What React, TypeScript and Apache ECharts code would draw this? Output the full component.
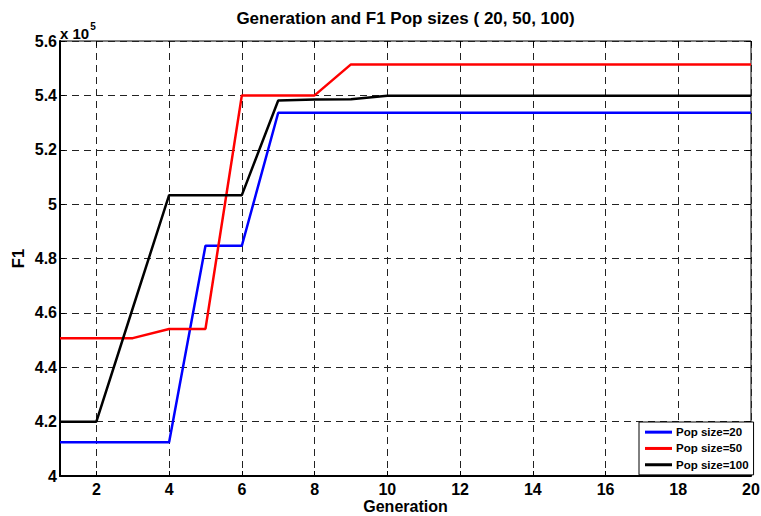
import React, { useEffect, useRef } from "react";
import * as echarts from "echarts";

const generations = [1, 2, 3, 4, 5, 6, 7, 8, 9, 10, 11, 12, 13, 14, 15, 16, 17, 18, 19, 20];
const pop20 = [412400, 412400, 412400, 412400, 484700, 484700, 533600, 533600, 533600, 533600, 533600, 533600, 533600, 533600, 533600, 533600, 533600, 533600, 533600, 533600];
const pop50 = [450700, 450700, 450700, 454100, 454100, 540000, 540000, 540000, 551400, 551400, 551400, 551400, 551400, 551400, 551400, 551400, 551400, 551400, 551400, 551400];
const pop100 = [420000, 420000, 461700, 503300, 503300, 503300, 538100, 538500, 538600, 539900, 539900, 539900, 539900, 539900, 539900, 539900, 539900, 539900, 539900, 539900];
const xTickValues = [2, 4, 6, 8, 10, 12, 14, 16, 18, 20];
const seriesNames = ["Pop size=20", "Pop size=50", "Pop size=100"];
const titleText = "Generation and F1 Pop sizes ( 20, 50, 100)";

const FONT = "'Liberation Sans', Arial, sans-serif";

export default function App() {
  const ref = useRef<HTMLDivElement>(null);
  useEffect(() => {
    if (!ref.current) return;
    const chart = echarts.init(ref.current, null, { renderer: "svg" });
    const pair = (ys: number[]) => generations.map((g, i) => [g, ys[i]]);
    const gridLine = { show: true, lineStyle: { color: "#222", width: 1, type: [7, 5] as any } };
    chart.setOption({
      animation: false,
      backgroundColor: "#fff",
      title: {
        text: titleText,
        left: 405.5,
        top: 10,
        textAlign: "center",
        padding: 0,
        textStyle: { fontFamily: FONT, fontWeight: "bold", fontSize: 17, color: "#000" },
      },
      graphic: [
        {
          type: "text",
          left: 60,
          top: 21,
          style: {
            text: "{a|x 10}{s|5}",
            rich: {
              a: { fontFamily: FONT, fontWeight: "bold", fontSize: 15, fill: "#000", verticalAlign: "bottom", lineHeight: 18 },
              s: { fontFamily: FONT, fontWeight: "bold", fontSize: 10, fill: "#000", verticalAlign: "top", padding: [0, 0, 10, 1] },
            },
          },
        },
      ],
      legend: {
        data: seriesNames,
        orient: "vertical",
        left: 639,
        top: 422,
        padding: [3, 5, 3, 6],
        itemGap: 2,
        itemWidth: 27,
        itemHeight: 3,
        icon: "rect",
        backgroundColor: "#fff",
        borderColor: "#000",
        borderWidth: 1,
        borderRadius: 0,
        textStyle: { fontFamily: FONT, fontWeight: "bold", fontSize: 11.5, color: "#000", lineHeight: 14.3, width: 70, padding: [0, 0, 0, -1] },
      },
      grid: {
        left: 60,
        right: 10,
        top: 41,
        bottom: 40,
        outerBoundsMode: "none",
        containLabel: false,
        show: true,
        borderColor: "#000",
        borderWidth: 1,
        backgroundColor: "#fff",
      },
      xAxis: [
        {
          type: "value",
          min: 1,
          max: 20,
          name: "Generation",
          nameLocation: "middle",
          nameMoveOverlap: false,
          nameGap: 21,
          nameTextStyle: { fontFamily: FONT, fontWeight: "bold", fontSize: 16, color: "#000", lineHeight: 18 },
          axisLine: { show: true, onZero: false, lineStyle: { color: "#000", width: 2 } },
          axisTick: { show: true, inside: true, length: 5, customValues: xTickValues, lineStyle: { color: "#000" } },
          axisLabel: { customValues: xTickValues, margin: 5, fontFamily: FONT, fontWeight: "bold", fontSize: 16, color: "#000" },
          splitLine: gridLine,
        },
        {
          type: "value",
          position: "top",
          min: 1,
          max: 20,
          axisLine: { show: false },
          axisTick: { show: true, inside: true, length: 5, customValues: xTickValues, lineStyle: { color: "#000" } },
          axisLabel: { show: false, customValues: xTickValues },
          splitLine: { show: false },
        },
      ],
      yAxis: [
        {
          type: "value",
          min: 400000,
          max: 560000,
          interval: 20000,
          name: "F1",
          nameLocation: "middle",
          nameMoveOverlap: false,
          nameGap: 34,
          nameTextStyle: { fontFamily: FONT, fontWeight: "bold", fontSize: 16.5, color: "#000" },
          axisLine: { show: true, onZero: false, lineStyle: { color: "#000", width: 2 } },
          axisTick: { show: true, inside: true, length: 5, lineStyle: { color: "#000" } },
          axisLabel: {
            margin: 3,
            fontFamily: FONT,
            fontWeight: "bold",
            fontSize: 16,
            color: "#000",
            formatter: (v: number) => String(+(v / 1e5).toFixed(1)),
          },
          splitLine: gridLine,
        },
        {
          type: "value",
          position: "right",
          min: 400000,
          max: 560000,
          interval: 20000,
          axisLine: { show: false },
          axisTick: { show: true, inside: true, length: 5, lineStyle: { color: "#000" } },
          axisLabel: { show: false },
          splitLine: { show: false },
        },
      ],
      series: [
        { name: seriesNames[0], type: "line", data: pair(pop20), showSymbol: false, symbol: "none", color: "#0000ff", lineStyle: { width: 2.5, color: "#0000ff" } },
        { name: seriesNames[1], type: "line", data: pair(pop50), showSymbol: false, symbol: "none", color: "#ff0000", lineStyle: { width: 2.5, color: "#ff0000" } },
        { name: seriesNames[2], type: "line", data: pair(pop100), showSymbol: false, symbol: "none", color: "#000000", lineStyle: { width: 2.5, color: "#000000" } },
      ],
    });
    return () => chart.dispose();
  }, []);
  return <div ref={ref} style={{ width: 761, height: 516, position: "absolute", left: 0, top: 0 }} />;
}
